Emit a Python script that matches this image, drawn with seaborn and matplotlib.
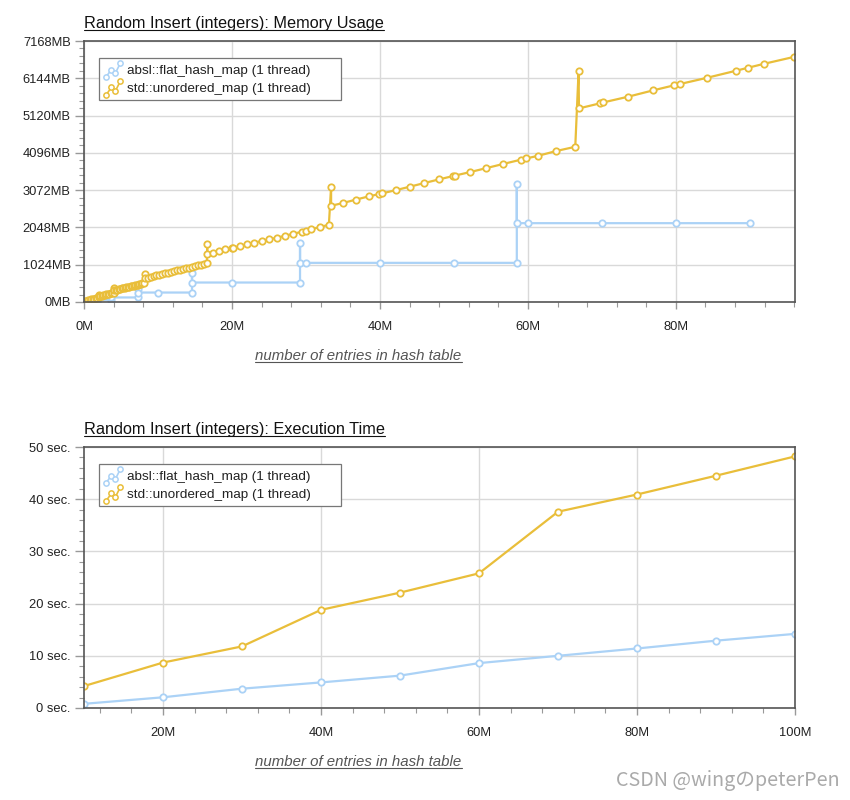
import numpy as np
import pandas as pd
import seaborn as sns
import matplotlib
matplotlib.use("Agg")
import matplotlib.pyplot as plt
from matplotlib.ticker import MultipleLocator, FuncFormatter
from matplotlib.legend_handler import HandlerBase
from matplotlib.lines import Line2D

# ---- data ----
series_names = ["absl::flat_hash_map (1 thread)", "std::unordered_map (1 thread)"]

# memory usage: entries (millions) / MB
absl_mem_x = [0, 1.8, 1.8, 1.8, 3.7, 3.7, 3.7, 7.3, 7.3, 7.3, 10, 14.6, 14.6, 14.6, 20,
              29.2, 29.2, 29.2, 30, 40, 50, 58.5, 58.5, 58.5, 60, 70, 80, 90]
absl_mem_y = [15, 30, 95, 62, 62, 190, 125, 125, 360, 260, 260, 260, 805, 535, 535,
              535, 1620, 1075, 1075, 1075, 1075, 1075, 3250, 2165, 2165, 2165, 2165, 2165]

std_mem_x = [0, 0.2, 0.4, 0.6, 0.8, 1.0, 1.2, 1.4, 1.6, 1.8, 2.0, 2.05, 2.05,
             2.2, 2.4, 2.6, 2.8, 3.0, 3.2, 3.4, 3.6, 3.8, 4.0, 4.1, 4.1,
             4.3, 4.5, 4.7, 4.9, 5.1, 5.3, 5.5, 5.7, 5.9, 6.1, 6.3, 6.5, 6.7, 6.9,
             7.1, 7.3, 7.5, 7.7, 7.9, 8.1, 8.2, 8.2,
             8.6, 9.0, 9.4, 9.8, 10.2, 10.6, 11.0, 11.4, 11.8, 12.2, 12.6, 13.0, 13.4,
             13.8, 14.2, 14.6, 15.0, 15.4, 15.8, 16.2, 16.6, 16.66, 16.66,
             17.5, 18.3, 19.1, 19.96, 20.2, 21.1, 22.0, 23.0, 24.0, 25.0, 26.1, 27.2,
             28.3, 29.5, 30.0, 30.7, 31.9, 33.1, 33.4, 33.4,
             35.0, 36.8, 38.5, 39.9, 40.3, 42.2, 44.0, 46.0, 48.0, 49.9, 50.1, 52.2,
             54.4, 56.6, 59.0, 59.8, 61.4, 63.8, 66.4, 66.85, 66.9,
             69.7, 70.2, 73.5, 76.9, 79.7, 80.5, 84.2, 88.1, 89.7, 91.9, 96.0]
std_mem_y = [2, 20, 37, 56, 66, 76, 86, 96, 105, 115, 125, 191, 159,
             166, 177, 186, 196, 206, 216, 225, 235, 245, 255, 387, 323,
             333, 343, 352, 362, 372, 382, 392, 401, 411, 421, 431, 441, 450, 460,
             470, 480, 490, 499, 509, 519, 780, 652,
             672, 691, 711, 730, 750, 770, 789, 809, 828, 848, 868, 887, 907,
             926, 946, 966, 985, 1005, 1024, 1044, 1063, 1584, 1316,
             1353, 1400, 1447, 1482, 1491, 1537, 1584, 1628, 1674, 1721, 1765, 1820,
             1875, 1930, 1949, 1996, 2059, 2122, 3165, 2643,
             2718, 2815, 2901, 2965, 2984, 3074, 3165, 3267, 3368, 3460, 3470, 3569,
             3678, 3788, 3906, 3944, 4016, 4145, 4263, 6341, 5317,
             5454, 5482, 5636, 5811, 5948, 5984, 6157, 6350, 6431, 6541, 6733]

# execution time: entries (millions) / seconds
time_x = [10, 20, 30, 40, 50, 60, 70, 80, 90, 100]
absl_time = [0.8, 2.05, 3.7, 4.9, 6.2, 8.6, 10.0, 11.4, 12.9, 14.2]
std_time = [4.2, 8.7, 11.8, 18.8, 22.1, 25.8, 37.6, 40.9, 44.5, 48.2]

colors = ["#abd2f6", "#e9be3a"]

sns.set_theme(style="white")
plt.rcParams["font.family"] = ["Liberation Sans", "DejaVu Sans"]

fig = plt.figure(figsize=(8.5, 8), dpi=100)
ax_h = 0.32625
ax1 = fig.add_axes([0.0988, 0.6225, 0.8365, ax_h])
ax2 = fig.add_axes([0.0988, 0.115, 0.8365, ax_h])


class ZigzagHandler(HandlerBase):
    # small line-chart icon like the original legend
    def create_artists(self, legend, orig_handle, xdescent, ydescent, width, height, fontsize, trans):
        xs = np.array([0.08, 0.4, 0.62, 0.92]) * width - xdescent
        ys = np.array([-0.25, 0.45, 0.1, 1.05]) * height - ydescent
        ln = Line2D(xs, ys, color=orig_handle.get_color(), lw=1.2, marker="o",
                    markersize=3.8, mfc="white", mec=orig_handle.get_color(), mew=1.1)
        ln.set_transform(trans)
        return [ln]


def draw_series(ax, xs, ys, color, label):
    df = pd.DataFrame({"x": xs, "y": ys})
    sns.lineplot(data=df, x="x", y="y", ax=ax, sort=False, estimator=None, color=color,
                 lw=1.6, marker="o", markersize=4.6, markerfacecolor="white",
                 markeredgecolor=color, markeredgewidth=1.3, label=label)


draw_series(ax1, absl_mem_x, absl_mem_y, colors[0], series_names[0])
draw_series(ax1, std_mem_x, std_mem_y, colors[1], series_names[1])
draw_series(ax2, time_x, absl_time, colors[0], series_names[0])
draw_series(ax2, time_x, std_time, colors[1], series_names[1])

ax1.set_xlim(0, 96.1)
ax1.set_ylim(0, 7168)
ax1.yaxis.set_major_locator(MultipleLocator(1024))
ax1.yaxis.set_minor_locator(MultipleLocator(1024 / 5))
ax1.yaxis.set_major_formatter(FuncFormatter(lambda v, p: f"{int(round(v))}MB"))

ax2.set_xlim(10, 100)
ax2.set_ylim(0, 50)
ax2.yaxis.set_major_locator(MultipleLocator(10))
ax2.yaxis.set_minor_locator(MultipleLocator(2))
ax2.yaxis.set_major_formatter(FuncFormatter(lambda v, p: f"{int(round(v))} sec."))

titles = ["Random Insert (integers): Memory Usage", "Random Insert (integers): Execution Time"]
title_text = []
label_text = []
for ax, ttl in zip([ax1, ax2], titles):
    ax.xaxis.set_major_locator(MultipleLocator(20))
    ax.xaxis.set_minor_locator(MultipleLocator(4))
    ax.xaxis.set_major_formatter(FuncFormatter(lambda v, p: f"{int(round(v))}M"))
    ax.grid(True, which="major", color="#d9d9d9", lw=1)
    ax.set_axisbelow(True)
    for s in ax.spines.values():
        s.set_color("#555555")
        s.set_linewidth(1.2)
    ax.tick_params(axis="both", which="both", direction="out", color="#999999",
                   labelcolor="#222222", labelsize=9.3, left=True, bottom=True)
    ax.tick_params(axis="y", which="major", length=6.5, width=1, pad=3)
    ax.tick_params(axis="y", which="minor", length=3.5, width=0.8)
    ax.tick_params(axis="x", which="major", length=5, width=1, pad=9)
    ax.tick_params(axis="x", which="minor", length=3.5, width=0.8)
    ax.set_xlabel("")
    ax.set_ylabel("")
    t = ax.text(0.0, 1.0 + 13 / (ax_h * 800), ttl, transform=ax.transAxes, fontsize=11.7,
                color="#111111", ha="left", va="baseline")
    title_text.append(t)
    lbl = ax.text(0.386, -0.222, "number of entries in hash table", transform=ax.transAxes,
                  fontsize=10.8, style="italic", color="#555555", ha="center", va="baseline")
    label_text.append(lbl)
    leg = ax.legend(loc="upper left", mode="expand",
                    bbox_to_anchor=(15 / 711, 0.5, 242 / 711, 1 - 17 / 261 - 0.5),
                    fontsize=9.7, frameon=True, fancybox=False, edgecolor="#777777",
                    framealpha=1, handler_map={Line2D: ZigzagHandler()}, handlelength=1.3,
                    handleheight=0.9, handletextpad=0.4, borderpad=0.4, labelspacing=0.35,
                    borderaxespad=0)
    leg.get_frame().set_linewidth(0.9)
    for txt in leg.get_texts():
        txt.set_color("#222222")

fig.text(0.988, 0.018, "CSDN @wingのpeterPen", ha="right", va="baseline", fontsize=14.2,
         color="#aaaaaa", family=["Noto Sans CJK JP", "DejaVu Sans"])

# underline the titles and axis labels
fig.canvas.draw()
inv = fig.transFigure.inverted()
for t, col in [(x, "#111111") for x in title_text] + [(x, "#555555") for x in label_text]:
    bb = t.get_window_extent()
    xb, yb = t.get_transform().transform(t.get_position())
    (x0, y0), (x1, _) = inv.transform([[bb.x0, yb - 2], [bb.x1, yb - 2]])
    fig.add_artist(Line2D([x0, x1], [y0, y0], color=col, lw=0.8, transform=fig.transFigure))

fig.savefig("out.png", dpi=100)
